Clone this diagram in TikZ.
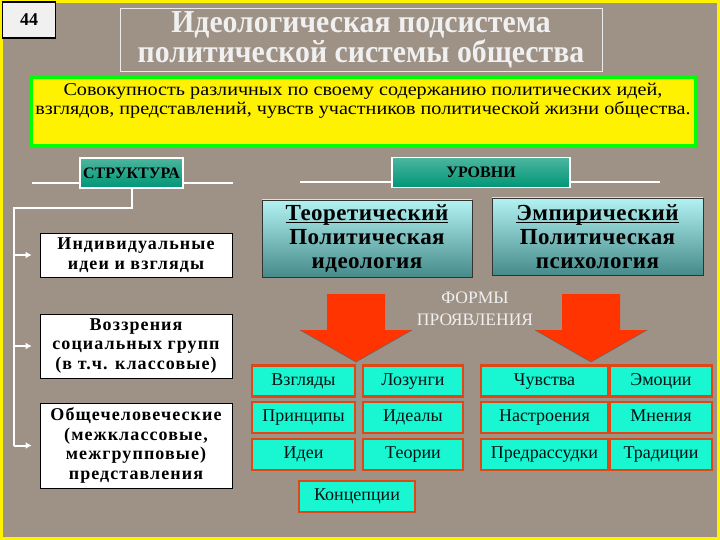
\documentclass[tikz,border=0pt]{standalone}
\usepackage{fontspec}
\setmainfont{Liberation Serif}
\newfontfamily\spaced[LetterSpace=6]{Liberation Serif}
\newfontfamily\lvlserif[LetterSpace=2]{Liberation Serif}
\newfontfamily\wideserif[FakeStretch=1.12]{Liberation Serif}
\newfontfamily\tallserif[FakeStretch=0.93]{Liberation Serif}
\usetikzlibrary{arrows.meta}

\newlength{\ulwidth}
\newcommand{\ulword}[1]{\settowidth{\ulwidth}{#1}\rlap{\rule[-2.5pt]{\ulwidth}{1.2pt}}#1}

\definecolor{granite}{RGB}{158,145,134}
\definecolor{tagteal}{RGB}{0,150,118}
\definecolor{formcyan}{RGB}{24,246,210}
\definecolor{formedge}{RGB}{222,72,22}
\definecolor{arrowred}{RGB}{255,52,0}
\definecolor{lvltop}{RGB}{178,242,242}
\definecolor{lvlbot}{RGB}{70,138,138}

\tikzset{
    wire/.style={white,line width=2.4pt},
    tagbox/.style={draw=white,line width=1.5pt,top color=tagteal!70!white,bottom color=tagteal,
        minimum height=30pt,font=\bfseries\fontsize{16}{16}\selectfont,inner sep=0pt},
    leftbox/.style={draw=black,line width=0.8pt,fill=white,minimum width=192pt,inner sep=2pt,
        align=center,font=\spaced\bfseries\fontsize{18}{19.5}\selectfont},
    levelbox/.style={draw=black!80,line width=0.8pt,top color=lvltop,bottom color=lvlbot,
        minimum height=77pt,inner sep=2pt,align=center,font=\lvlserif\bfseries\fontsize{23}{24}\selectfont},
    formbox/.style={draw=formedge,line width=2.4pt,fill=formcyan,minimum height=31pt,inner sep=1pt,
        text height=12pt,text depth=4pt,text=black!85!teal,font=\fontsize{18}{18}\selectfont}
}

\begin{document}
\begin{tikzpicture}[x=1pt,y=-1pt]
    \fill[granite] (0,0) rectangle (720,540);
    \draw[yellow,line width=3pt] (1.5,1.5) rectangle (718.5,538.5);
    \useasboundingbox (0,0) rectangle (720,540);

    % number and title
    \node[draw=black,line width=1.6pt,fill=black!6,minimum width=53pt,minimum height=36pt,
        font=\bfseries\fontsize{18}{18}\selectfont] (num) at (29,20) {44};
    \node[draw=white!85!gray,line width=0.8pt,minimum width=482pt,minimum height=57pt,
        text=white!88!gray,align=center,font=\tallserif\bfseries\fontsize{32}{24}\selectfont] (title) at (361,40)
        {Идеологическая подсистема\\политической системы общества};

    % definition
    \node[draw=green,line width=3pt,fill=yellow,minimum width=664pt,minimum height=68pt] (def) at (363,112) {};
    \node[anchor=north,align=center,font=\wideserif\fontsize{18}{19}\selectfont] (deftext)
        at ([yshift=-3pt]def.north)
        {Совокупность различных по своему содержанию политических идей,\\
         взглядов, представлений, чувств участников политической жизни общества.};

    % structure
    \draw[wire] (32,183) -- (233,183);
    \node[tagbox,minimum width=103pt] (struct) at (131.5,173) {СТРУКТУРА};
    \node[leftbox,minimum height=44pt] (ind) at (136,255) {Индивидуальные\\идеи и взгляды};
    \node[leftbox,minimum height=64pt] (grp) at (136,346) {Воззрения\\социальных групп\\(в т.ч. классовые)};
    \node[leftbox,minimum height=85pt] (gen) at (136,445.5)
        {Общечеловеческие\\(межклассовые,\\межгрупповые)\\представления};

    \coordinate (bend) at (14,208);
    \draw[wire,line width=2pt] (struct.south) |- (bend) -- (bend |- gen.west);
    \foreach \b in {ind,grp,gen}
        {
            \draw[wire,line width=2pt,-{Latex[length=6pt,width=7pt]}] (bend |- \b.west) -- ([xshift=-8pt]\b.west);
        }

    % levels
    \draw[wire] (300,182) -- (660,182);
    \node[tagbox,minimum width=178pt] (levels) at (481,172.5) {УРОВНИ};
    \node[levelbox,minimum width=210pt] (theo) at (367,238.5)
        {\ulword{Теоретический}\\Политическая\\идеология};
    \node[levelbox,minimum width=211pt] (emp) at (597.5,236.5)
        {\ulword{Эмпирический}\\Политическая\\психология};

    % forms
    \foreach \cx in {356,591}
        {
            \fill[arrowred] (\cx-29,294) -- (\cx+29,294) -- (\cx+29,330) -- (\cx+56,330)
                -- (\cx,362) -- (\cx-56,330) -- (\cx-29,330) -- cycle;
            \draw[black!60,line width=0.6pt] (\cx-56,330) -- (\cx,362) -- (\cx+56,330);
        }
    \node[text=white!88!gray,align=center,font=\fontsize{17.5}{22}\selectfont] (forms) at (475,309)
        {ФОРМЫ\\ПРОЯВЛЕНИЯ};

    \foreach \txt/\nm/\x/\y/\w in {Взгляды/f11/303.5/381/103, Принципы/f21/303.5/417.5/103, Идеи/f31/303.5/454.5/103,
        Лозунги/f12/413/381/100, Идеалы/f22/413/417.5/100, Теории/f32/413/454.5/100,
        Чувства/f13/544.5/381/127, Настроения/f23/544.5/417.5/127, Предрассудки/f33/544.5/454.5/127,
        Эмоции/f14/661/381/102, Мнения/f24/661/417.5/102, Традиции/f34/661/454.5/102,
        Концепции/f41/357/496.5/116}
        {
            \node[formbox,minimum width=\w pt] (\nm) at (\x,\y) {\txt};
        }
\end{tikzpicture}
\end{document}
